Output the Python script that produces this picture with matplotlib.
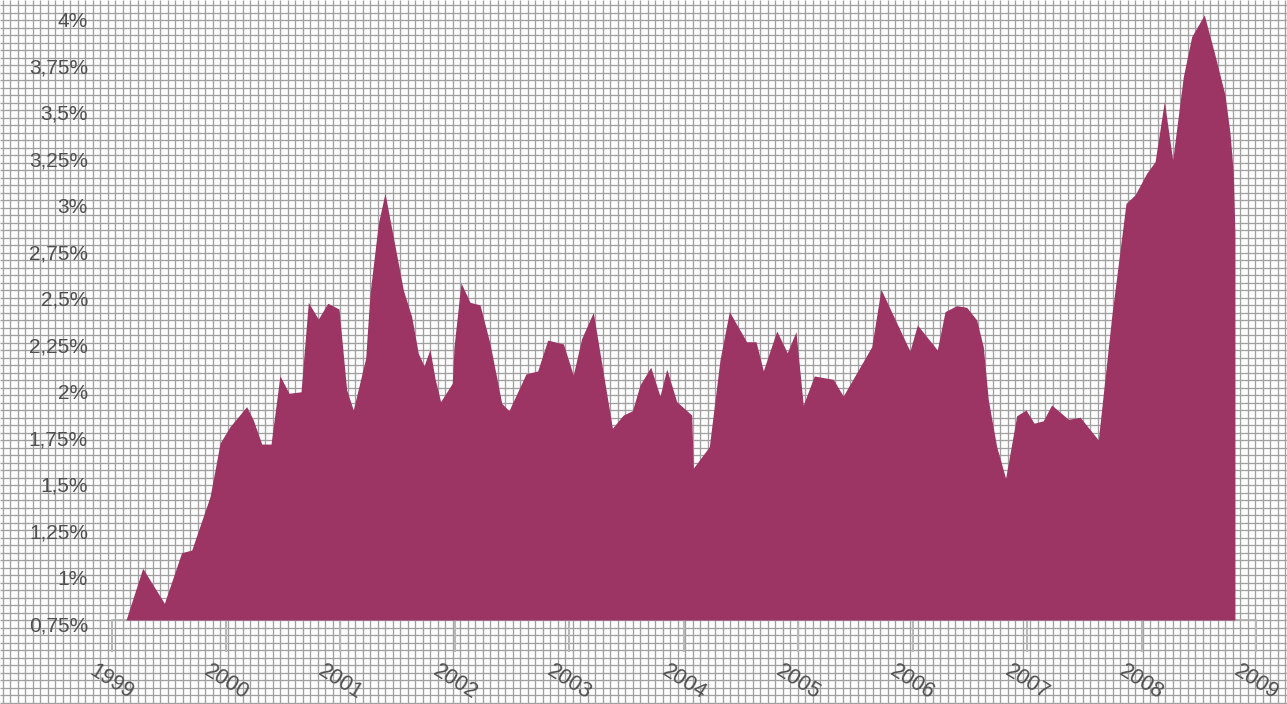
import matplotlib
matplotlib.use('Agg')
import matplotlib.pyplot as plt
import matplotlib.transforms as mtransforms
import numpy as np

# inflation series (decimal year, percent)
years = [1999.126, 1999.272, 1999.461, 1999.612, 1999.700, 1999.860, 1999.904, 1999.947,
         2000.034, 2000.180, 2000.238, 2000.312, 2000.393, 2000.471, 2000.550, 2000.655,
         2000.719, 2000.806, 2000.889, 2000.987, 2001.054, 2001.112, 2001.220, 2001.258,
         2001.331, 2001.389, 2001.461, 2001.549, 2001.622, 2001.680, 2001.730, 2001.782,
         2001.826, 2001.875, 2001.977, 2001.992, 2002.053, 2002.132, 2002.219, 2002.306,
         2002.409, 2002.472, 2002.621, 2002.723, 2002.811, 2002.948, 2003.034, 2003.108,
         2003.209, 2003.376, 2003.471, 2003.551, 2003.617, 2003.711, 2003.792, 2003.851,
         2003.938, 2004.069, 2004.083, 2004.223, 2004.316, 2004.398, 2004.549, 2004.631,
         2004.695, 2004.812, 2004.904, 2004.980, 2005.044, 2005.140, 2005.306, 2005.393,
         2005.642, 2005.723, 2005.976, 2006.041, 2006.215, 2006.283, 2006.384, 2006.472,
         2006.559, 2006.617, 2006.661, 2006.734, 2006.812, 2006.909, 2006.990, 2007.061,
         2007.141, 2007.214, 2007.360, 2007.463, 2007.622, 2007.739, 2007.864, 2007.943,
         2008.045, 2008.118, 2008.199, 2008.272, 2008.365, 2008.438, 2008.548, 2008.641,
         2008.729, 2008.773, 2008.802, 2008.816]
rates = [0.75, 1.028, 0.840, 1.112, 1.126, 1.413, 1.556, 1.700,
         1.789, 1.897, 1.825, 1.696, 1.696, 2.063, 1.969, 1.977,
         2.458, 2.368, 2.453, 2.422, 1.987, 1.879, 2.157, 2.506,
         2.883, 3.044, 2.811, 2.524, 2.381, 2.184, 2.116, 2.205,
         2.049, 1.924, 2.023, 2.219, 2.563, 2.458, 2.444, 2.238,
         1.915, 1.875, 2.073, 2.089, 2.255, 2.234, 2.067, 2.264,
         2.404, 1.781, 1.852, 1.875, 2.013, 2.109, 1.954, 2.099,
         1.924, 1.852, 1.566, 1.682, 2.148, 2.408, 2.246, 2.246,
         2.090, 2.304, 2.187, 2.300, 1.906, 2.062, 2.044, 1.954,
         2.219, 2.528, 2.196, 2.336, 2.202, 2.408, 2.440, 2.431,
         2.363, 2.219, 1.933, 1.682, 1.512, 1.848, 1.879, 1.808,
         1.821, 1.906, 1.829, 1.840, 1.718, 2.381, 2.990, 3.035,
         3.152, 3.214, 3.537, 3.223, 3.671, 3.886, 4.003, 3.788,
         3.573, 3.367, 3.152, 2.829]

year_ticks = list(range(1999, 2010))
pct_ticks = [0.75, 1.0, 1.25, 1.5, 1.75, 2.0, 2.25, 2.5, 2.75, 3.0, 3.25, 3.5, 3.75, 4.0]
pct_labels = ['0,75%', '1%', '1,25%', '1,5%', '1,75%', '2%', '2,25%', '2,5%',
              '2,75%', '3%', '3,25%', '3,5%', '3,75%', '4%']

W, H = 1287, 704
fill_color = '#9c3564'
text_color = '#505050'
plt.rcParams['font.family'] = ['Liberation Sans', 'DejaVu Sans']

fig = plt.figure(figsize=(W / 100, H / 100), dpi=100)
fig.patch.set_facecolor('white')

# graph-paper background over the whole figure
bg = fig.add_axes([0, 0, 1, 1], zorder=0)
bg.set_xlim(0, W)
bg.set_ylim(H, 0)
bg.axis('off')
step = 7.5
bg.vlines(np.arange(2.7, W, step), 0, H, color='#a0a0a0', lw=0.95)
bg.hlines(np.arange(5.0, H, step), 0, W, color='#a0a0a0', lw=0.95)

# main axes: 1999 at x~111.6px, 2009 at x=1256px; 0.75% at y=620px, 4.05% at y~6px
left, right = 111.6 / W, 1256 / W
bottom, top = (H - 620) / H, (H - 6.2) / H
ax = fig.add_axes([left, bottom, right - left, top - bottom], zorder=1)
ax.set_facecolor('none')
ax.set_xlim(1999, 2009)
ax.set_ylim(0.75, 4.05)

ax.fill_between(years, rates, 0.75, color=fill_color, lw=0, zorder=2)

for s in ['top', 'right', 'left']:
    ax.spines[s].set_visible(False)
ax.spines['bottom'].set_color('#b0b0b0')
ax.spines['bottom'].set_linewidth(1.2)
ax.spines['bottom'].set_zorder(0.5)

ax.set_yticks(pct_ticks)
ax.set_yticklabels(pct_labels)
ax.tick_params(axis='y', length=0, pad=17, labelsize=15, labelcolor=text_color)
shift = mtransforms.ScaledTranslation(0, -4 / 100, fig.dpi_scale_trans)
for lab in ax.get_yticklabels():
    lab.set_transform(lab.get_transform() + shift)

ax.set_xticks(year_ticks)
ax.set_xticklabels([str(y) for y in year_ticks], rotation=-32, ha='center', va='top')
ax.tick_params(axis='x', direction='out', length=23, width=1.5, color='#b8b8b8',
               pad=6, labelsize=15.5, labelcolor=text_color)

fig.savefig('out.png', dpi=100, facecolor='white')
